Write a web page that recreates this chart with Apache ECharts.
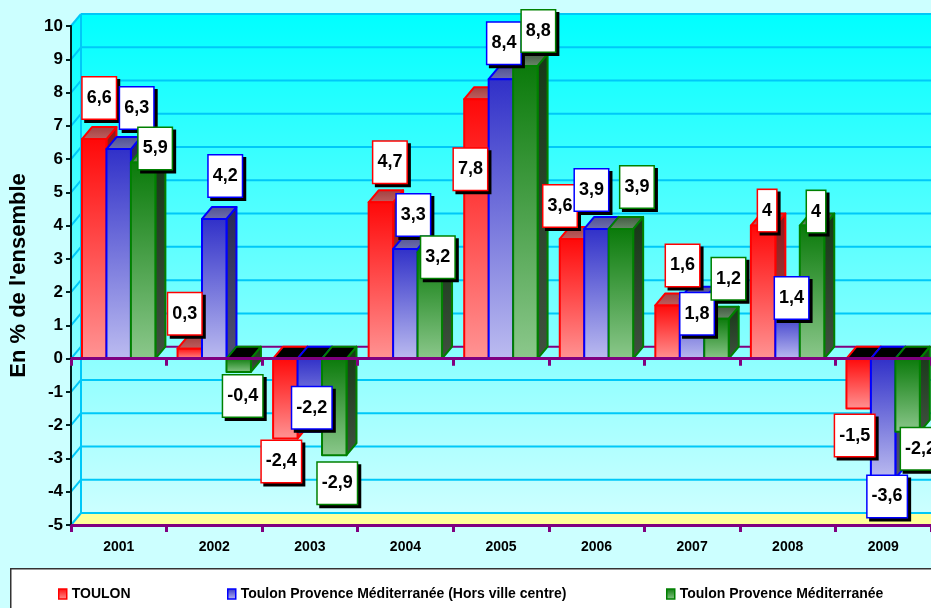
<!DOCTYPE html>
<html>
<head>
<meta charset="utf-8">
<script src="https://cdn.jsdelivr.net/npm/echarts@6/dist/echarts.min.js"></script>
<style>
  html, body { margin: 0; padding: 0; background: #CCFFFF; }
  #chart { width: 931px; height: 608px; }
</style>
</head>
<body>
<div id="chart"></div>
<script>
// Évolution annuelle, en % de l'ensemble
const categories = ['2001', '2002', '2003', '2004', '2005', '2006', '2007', '2008', '2009'];
const toulon = [6.6, 0.3, -2.4, 4.7, 7.8, 3.6, 1.6, 4, -1.5];
const tpmHorsCentre = [6.3, 4.2, -2.2, 3.3, 8.4, 3.9, 1.8, 1.4, -3.6];
const tpm = [5.9, -0.4, -2.9, 3.2, 8.8, 3.9, 1.2, 4, -2.2];
const seriesNames = [
  'TOULON',
  'Toulon Provence Méditerranée (Hors ville centre)',
  'Toulon Provence Méditerranée'
];
const yMin = -5, yMax = 10, yStep = 1;

// --- styling ---
const FONT = '"Liberation Sans", Arial, sans-serif';
const DX = 10, DY = -12; // depth of the 3D effect
const palette = [
  { line: '#FF0000', top: '#FF0808', bottom: '#FF9494', lid: ['#C06060', '#A04040'], side: ['#901818', '#A05050'] },
  { line: '#0000FF', top: '#3030C8', bottom: '#BCBCF0', lid: ['#7070B0', '#505090'], side: ['#28285A', '#505070'] },
  { line: '#008000', top: '#0A7A0A', bottom: '#8CC88C', lid: ['#6A8A6A', '#405840'], side: ['#163816', '#405040'] }
];
// label box nudges relative to the bar's value point
const labelNudge = [
  [[5, -41], [-5, -35], [-4, 23], [9, -40], [-6, 70], [-12, -33], [15, -40], [4, -15], [-4, 27]],
  [[18, -41], [11, -43], [2, -24], [8, -34], [3, -36], [-5, -39], [5, 15], [4, -14], [4, 18]],
  [[12, -14], [4, 24], [3, 28], [8, 5], [13, -35], [16, -42], [12, -40], [4, -14], [13, 17]]
];

const vgrad = (a, b) => new echarts.graphic.LinearGradient(0, 0, 0, 1, [
  { offset: 0, color: a }, { offset: 1, color: b }
]);
const fmt = v => String(v).replace('.', ',');

function frameRenderer(params, api) {
  const cs = params.coordSys;
  const x0 = cs.x, x1 = cs.x + cs.width;
  const yOf = v => api.coord([0, v])[1];
  const yT = yOf(yMax), yB = yOf(yMin);
  const children = [];
  const wallFill = vgrad('#00FFFF', '#CCFFFF');
  children.push({ type: 'rect', shape: { x: x0 + DX, y: yT + DY, width: x1 - x0, height: yB - yT }, style: { fill: wallFill } });
  children.push({ type: 'polygon', shape: { points: [[x0, yT], [x0 + DX, yT + DY], [x0 + DX, yB + DY], [x0, yB]] }, style: { fill: wallFill } });
  children.push({ type: 'polygon', shape: { points: [[x0, yB], [x0 + DX, yB + DY], [x1 + DX, yB + DY], [x1, yB]] }, style: { fill: '#FFFF99' } });
  for (let v = yMin; v <= yMax; v += yStep) {
    const y = yOf(v);
    const col = v === 0 ? '#800080' : '#00C8F8';
    children.push({ type: 'line', shape: { x1: x0 + DX, y1: y + DY, x2: x1 + DX, y2: y + DY }, style: { stroke: col, lineWidth: 2 } });
    children.push({ type: 'line', shape: { x1: x0, y1: y, x2: x0 + DX, y2: y + DY }, style: { stroke: '#00C8F8', lineWidth: 2 } });
  }
  children.push({ type: 'line', shape: { x1: x0 + DX, y1: yT + DY, x2: x0 + DX, y2: yB + DY }, style: { stroke: '#00C8F8', lineWidth: 2 } });
  return { type: 'group', children };
}

function barRenderer(s) {
  const p = palette[s];
  return function (params, api) {
    const i = api.value(0), v = api.value(1);
    const base = api.coord([i, 0]);
    const bandW = api.size([1, 0])[0];
    const bw = bandW * 0.256;
    const x0 = base[0] - bandW / 2 + bandW * 0.115 + s * bw;
    const y0 = base[1];
    const yv = api.coord([i, v])[1];
    const yt = Math.min(y0, yv), yb = Math.max(y0, yv);
    const neg = v < 0;
    const stroke = { stroke: p.line, lineWidth: 2, lineJoin: 'round' };
    const children = [
      { type: 'polygon', shape: { points: [[x0 + bw, yt], [x0 + bw + DX, yt + DY], [x0 + bw + DX, yb + DY], [x0 + bw, yb]] },
        style: Object.assign({ fill: vgrad(p.side[0], p.side[1]) }, stroke) },
      { type: 'polygon', shape: { points: [[x0, yt], [x0 + DX, yt + DY], [x0 + bw + DX, yt + DY], [x0 + bw, yt]] },
        style: Object.assign({ fill: neg ? '#000000' : vgrad(p.lid[1], p.lid[0]) }, stroke) },
      { type: 'rect', shape: { x: x0, y: yt, width: bw, height: yb - yt },
        style: Object.assign({ fill: vgrad(p.top, p.bottom) }, stroke) }
    ];
    const nd = labelNudge[s][i];
    const lx = x0 + bw / 2 + nd[0], ly = yv + nd[1];
    const textStyle = {
      text: fmt(v), font: 'bold 18px ' + FONT, align: 'center', verticalAlign: 'middle',
      lineHeight: 18, padding: [11, 4, 12, 4]
    };
    children.push({ type: 'text', z2: 99, x: lx + 3, y: ly + 3,
      style: Object.assign({}, textStyle, { fill: '#000', backgroundColor: '#000', borderColor: '#000', borderWidth: 1.5 }) });
    children.push({ type: 'text', z2: 100, x: lx, y: ly,
      style: Object.assign({}, textStyle, { fill: '#000', backgroundColor: '#FFFFFF', borderColor: p.line, borderWidth: 1.5 }) });
    return { type: 'group', children };
  };
}

const seriesValues = [toulon, tpmHorsCentre, tpm];
const chart = echarts.init(document.getElementById('chart'), null, { renderer: 'canvas' });

const axisPurple = { lineStyle: { color: '#800080', width: 3 } };
const legendAt = [53, 222, 661];

chart.setOption({
  backgroundColor: '#CCFFFF',
  animation: false,
  textStyle: { fontFamily: FONT },
  grid: { left: 70, top: 26, width: 861, height: 499 },
  graphic: [{
    type: 'rect', z: -1, left: 10, top: 568,
    shape: { width: 940, height: 60 },
    style: { fill: '#FFFFFF', stroke: '#333333', lineWidth: 1.5 }
  }],
  legend: seriesNames.map((n, k) => ({
    left: legendAt[k], top: 582, selectedMode: false,
    itemWidth: 8, itemHeight: 10, icon: 'rect',
    textStyle: { fontFamily: FONT, fontWeight: 'bold', fontSize: 14, color: '#000' },
    data: [{ name: n, itemStyle: { color: vgrad(palette[k].top, palette[k].bottom), borderColor: palette[k].line, borderWidth: 1.5 } }]
  })),
  xAxis: [{
    type: 'category', data: categories, position: 'bottom', z: 10,
    axisLine: Object.assign({ onZero: false }, axisPurple),
    axisTick: { show: true, length: 7, lineStyle: { color: '#800080', width: 3 } },
    axisLabel: { margin: 15, fontSize: 14, fontWeight: 'bold', color: '#000', fontFamily: FONT },
    splitLine: { show: false }
  }, {
    type: 'category', data: categories, position: 'top', z: 10,
    axisLine: Object.assign({ onZero: true }, axisPurple),
    axisTick: { show: true, inside: true, length: 7, lineStyle: { color: '#800080', width: 3 } },
    axisLabel: { show: false },
    splitLine: { show: false }
  }],
  yAxis: {
    type: 'value', min: yMin, max: yMax, interval: yStep, z: 10,
    name: "En % de l'ensemble", nameLocation: 'middle', nameRotate: 90, nameGap: 41,
    nameTextStyle: { fontSize: 22, fontWeight: 'bold', color: '#000', fontFamily: FONT },
    axisLine: { show: true, lineStyle: { color: '#002020', width: 2 } },
    axisTick: { show: true, length: 5, lineStyle: { color: '#002020', width: 2 } },
    axisLabel: { margin: 8, fontSize: 17, fontWeight: 'bold', color: '#000', fontFamily: FONT },
    splitLine: { show: false }
  },
  series: [{
    name: 'cadre', type: 'custom', z: 1, silent: true, clip: false,
    renderItem: frameRenderer, data: [[0, 0]]
  }].concat(seriesValues.map((vals, s) => ({
    name: seriesNames[s], type: 'custom', z: 2, clip: false,
    itemStyle: { color: palette[s].line },
    renderItem: barRenderer(s),
    encode: { x: 0, y: 1 },
    data: vals.map((v, i) => [i, v])
  })))
});
</script>
</body>
</html>
